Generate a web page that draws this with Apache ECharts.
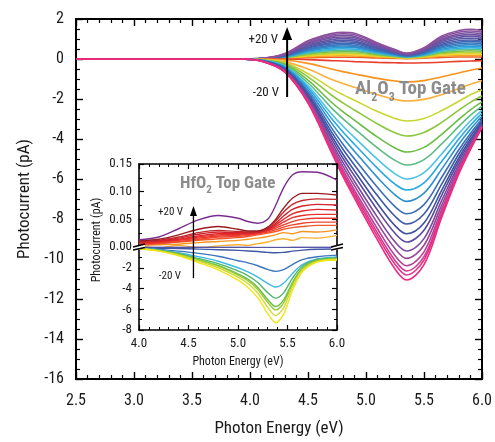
<!DOCTYPE html>
<html>
<head>
<meta charset="utf-8">
<script src="https://cdn.jsdelivr.net/npm/echarts@6/dist/echarts.min.js"></script>
<style>
html, body { margin: 0; padding: 0; background: #fff; }
#chart { width: 495px; height: 442px; }
</style>
</head>
<body>
<div id="chart"></div>
<script>
const FONT = "'Roboto Condensed', 'DejaVu Sans Condensed', sans-serif";

// ---------- Main panel: Al2O3 top gate, gate sweep -20 V ... +20 V ----------
const energyMain = [2.5, 3.5, 3.9, 4.1, 4.3, 4.5, 4.7, 4.8, 4.9, 5.1, 5.25, 5.35, 5.5, 5.65, 5.8, 5.9, 6.0];

// positive-going curves, smallest first
const positiveSweep = [
  [0, 0, 0, 0, 0.02, 0.06, 0.09, 0.09, 0.09, 0.05, 0.03, 0.02, 0.04, 0.08, 0.10, 0.10, 0.10],
  [0, 0, 0, 0, 0.03, 0.11, 0.15, 0.16, 0.15, 0.10, 0.06, 0.04, 0.07, 0.14, 0.17, 0.18, 0.17],
  [0, 0, 0, 0, 0.05, 0.16, 0.22, 0.23, 0.22, 0.14, 0.08, 0.05, 0.10, 0.20, 0.24, 0.26, 0.24],
  [0, 0, 0, 0.01, 0.06, 0.20, 0.29, 0.30, 0.29, 0.18, 0.11, 0.07, 0.13, 0.26, 0.32, 0.33, 0.32],
  [0, 0, 0, 0.01, 0.07, 0.25, 0.35, 0.37, 0.36, 0.22, 0.13, 0.08, 0.16, 0.31, 0.39, 0.41, 0.39],
  [0, 0, 0, 0.01, 0.09, 0.30, 0.42, 0.44, 0.42, 0.26, 0.15, 0.10, 0.18, 0.37, 0.47, 0.49, 0.47],
  [0, 0, 0, 0.01, 0.10, 0.35, 0.48, 0.51, 0.49, 0.31, 0.18, 0.11, 0.21, 0.43, 0.54, 0.57, 0.54],
  [0, 0, 0, 0.01, 0.12, 0.39, 0.55, 0.58, 0.56, 0.35, 0.20, 0.13, 0.24, 0.49, 0.61, 0.64, 0.61],
  [0, 0, 0, 0.01, 0.13, 0.44, 0.62, 0.65, 0.62, 0.39, 0.23, 0.14, 0.27, 0.55, 0.69, 0.72, 0.69],
  [0, 0, 0, 0.01, 0.14, 0.49, 0.68, 0.72, 0.69, 0.43, 0.25, 0.16, 0.30, 0.61, 0.76, 0.80, 0.76],
  [0, 0, 0, 0.02, 0.16, 0.54, 0.75, 0.79, 0.76, 0.47, 0.28, 0.17, 0.33, 0.67, 0.84, 0.88, 0.84],
  [0, 0, 0, 0.02, 0.17, 0.58, 0.82, 0.86, 0.83, 0.52, 0.30, 0.19, 0.36, 0.73, 0.91, 0.95, 0.91],
  [0, 0, 0, 0.02, 0.19, 0.64, 0.89, 0.94, 0.90, 0.56, 0.33, 0.21, 0.39, 0.80, 1.00, 1.04, 1.00],
  [0, 0, 0, 0.02, 0.20, 0.69, 0.97, 1.02, 0.98, 0.61, 0.36, 0.22, 0.43, 0.87, 1.08, 1.13, 1.08],
  [0, 0, 0, 0.02, 0.22, 0.75, 1.05, 1.10, 1.06, 0.66, 0.39, 0.24, 0.46, 0.94, 1.17, 1.22, 1.17],
  [0, 0, 0, 0.02, 0.24, 0.80, 1.12, 1.18, 1.13, 0.71, 0.41, 0.26, 0.50, 1.00, 1.25, 1.31, 1.25],
  [0, 0, 0, 0.03, 0.25, 0.86, 1.20, 1.26, 1.21, 0.76, 0.44, 0.28, 0.53, 1.07, 1.34, 1.40, 1.34],
  [0, 0, 0, 0.03, 0.27, 0.91, 1.27, 1.34, 1.29, 0.80, 0.47, 0.29, 0.56, 1.14, 1.42, 1.49, 1.42]
];
const positiveColors = [
  '#ef5a28', '#f7a21e', '#f2d027', '#b5d334', '#7dc242', '#5bbf9a',
  '#33b3e0', '#2a9bd6', '#3288c9', '#3878bf', '#3f6ab6', '#4a5fae',
  '#5458a6', '#6256a4', '#6f53a2', '#7c51a0', '#87509f', '#8e4f9f'
];

// negative-going curves, shallowest first
const negativeSweep = [
  [0, 0, 0, 0, 0, -0.03, -0.08, -0.10, -0.13, -0.17, -0.19, -0.20, -0.19, -0.16, -0.12, -0.10, -0.08],
  [0, 0, 0, -0.01, -0.05, -0.22, -0.50, -0.63, -0.75, -0.97, -1.10, -1.15, -1.08, -0.90, -0.70, -0.56, -0.45],
  [0, 0, 0, -0.02, -0.13, -0.50, -1.01, -1.22, -1.41, -1.79, -2.02, -2.10, -2.02, -1.79, -1.47, -1.26, -1.09],
  [0, 0, 0, -0.03, -0.19, -0.73, -1.47, -1.78, -2.06, -2.63, -2.97, -3.10, -2.97, -2.59, -2.11, -1.79, -1.54],
  [0, 0, 0, -0.04, -0.23, -0.89, -1.80, -2.19, -2.55, -3.25, -3.69, -3.85, -3.67, -3.18, -2.56, -2.17, -1.84],
  [0, 0, 0, -0.05, -0.28, -1.06, -2.15, -2.63, -3.06, -3.91, -4.45, -4.65, -4.42, -3.78, -3.02, -2.54, -2.14],
  [0, 0, 0, -0.05, -0.32, -1.20, -2.43, -2.98, -3.48, -4.45, -5.07, -5.30, -5.03, -4.26, -3.37, -2.82, -2.36],
  [0, 0, 0, -0.06, -0.36, -1.34, -2.72, -3.35, -3.92, -5.02, -5.74, -6.00, -5.68, -4.76, -3.73, -3.10, -2.57],
  [0, 0, 0, -0.07, -0.39, -1.44, -2.95, -3.64, -4.26, -5.47, -6.26, -6.55, -6.19, -5.14, -4.00, -3.31, -2.72],
  [0, 0, 0, -0.07, -0.43, -1.55, -3.18, -3.93, -4.61, -5.93, -6.79, -7.12, -6.71, -5.53, -4.26, -3.51, -2.86],
  [0, 0, 0, -0.08, -0.46, -1.66, -3.42, -4.25, -4.99, -6.43, -7.38, -7.74, -7.28, -5.94, -4.54, -3.72, -3.00],
  [0, 0, 0, -0.08, -0.50, -1.76, -3.62, -4.50, -5.30, -6.84, -7.86, -8.25, -7.75, -6.28, -4.75, -3.87, -3.10],
  [0, 0, 0, -0.09, -0.52, -1.84, -3.80, -4.75, -5.59, -7.24, -8.33, -8.74, -8.20, -6.59, -4.95, -4.01, -3.18],
  [0, 0, 0, -0.09, -0.55, -1.90, -3.96, -4.95, -5.84, -7.56, -8.71, -9.15, -8.56, -6.84, -5.11, -4.12, -3.25],
  [0, 0, 0, -0.10, -0.58, -1.98, -4.13, -5.16, -6.11, -7.92, -9.14, -9.60, -8.98, -7.11, -5.27, -4.23, -3.30],
  [0, 0, 0, -0.10, -0.60, -2.04, -4.26, -5.34, -6.33, -8.22, -9.48, -9.97, -9.31, -7.34, -5.40, -4.32, -3.34],
  [0, 0, 0, -0.10, -0.62, -2.10, -4.39, -5.52, -6.55, -8.50, -9.83, -10.34, -9.64, -7.55, -5.52, -4.39, -3.38],
  [0, 0, 0, -0.11, -0.64, -2.14, -4.48, -5.65, -6.70, -8.71, -10.07, -10.60, -9.88, -7.71, -5.61, -4.45, -3.39],
  [0, 0, 0, -0.11, -0.65, -2.17, -4.56, -5.73, -6.81, -8.87, -10.26, -10.80, -10.05, -7.82, -5.67, -4.48, -3.41],
  [0, 0, 0, -0.11, -0.66, -2.21, -4.64, -5.86, -6.96, -9.06, -10.50, -11.05, -10.28, -7.96, -5.75, -4.53, -3.43]
];
const negativeColors = [
  '#e83f2c', '#f7931e', '#fbb03b', '#c8d630', '#8cc63f', '#6abd45', '#5dbb84',
  '#4cc3e6', '#29a9e0', '#2e8fd0', '#3b6fba', '#3c5aa8', '#4250a0', '#5b4b9e',
  '#7a4a9c', '#97479a', '#b44395', '#d13b8d', '#e6338a', '#ed2a7e'
];

// ---------- Inset: HfO2 top gate ----------
const energyInset = [4.0, 4.2, 4.4, 4.6, 4.8, 5.0, 5.1, 5.2, 5.3, 5.38, 5.46, 5.55, 5.65, 5.8, 6.0];

// upper (broken) axis, 0 ... 0.15
const insetUpper = [
  [0.003, -0.002, 0.003, -0.001, 0.002, 0.004, 0.003, 0.006, 0.009, 0.013, 0.015, 0.012, 0.017, 0.016, 0.021],
  [0.003, 0.004, 0.005, 0.008, 0.010, 0.012, 0.014, 0.016, 0.019, 0.022, 0.026, 0.024, 0.028, 0.027, 0.031],
  [0.004, 0.006, 0.009, 0.012, 0.015, 0.017, 0.019, 0.022, 0.025, 0.028, 0.032, 0.035, 0.037, 0.039, 0.039],
  [0.005, 0.007, 0.010, 0.014, 0.018, 0.019, 0.021, 0.024, 0.027, 0.031, 0.036, 0.040, 0.043, 0.045, 0.045],
  [0.006, 0.008, 0.012, 0.016, 0.020, 0.021, 0.023, 0.025, 0.029, 0.034, 0.040, 0.046, 0.050, 0.052, 0.052],
  [0.007, 0.009, 0.013, 0.018, 0.022, 0.023, 0.024, 0.026, 0.030, 0.037, 0.045, 0.053, 0.057, 0.059, 0.059],
  [0.008, 0.010, 0.014, 0.020, 0.024, 0.024, 0.025, 0.026, 0.031, 0.040, 0.050, 0.060, 0.065, 0.068, 0.067],
  [0.009, 0.011, 0.016, 0.023, 0.027, 0.026, 0.026, 0.027, 0.032, 0.043, 0.056, 0.068, 0.074, 0.077, 0.076],
  [0.010, 0.012, 0.018, 0.026, 0.030, 0.028, 0.027, 0.028, 0.034, 0.047, 0.063, 0.077, 0.084, 0.087, 0.086],
  [0.011, 0.014, 0.022, 0.032, 0.037, 0.032, 0.029, 0.029, 0.036, 0.050, 0.070, 0.088, 0.097, 0.097, 0.094],
  [0.013, 0.018, 0.033, 0.049, 0.057, 0.052, 0.046, 0.043, 0.050, 0.075, 0.107, 0.130, 0.136, 0.135, 0.121]
];
const insetUpperColors = [
  '#fbb034', '#f7941d', '#f05a2a', '#ee4530', '#ec3b2e', '#e8312c',
  '#e0262a', '#d2232a', '#c1272d', '#9b1c1f', '#7b2d8e'
];

// lower axis, -8 ... 0
const insetLower = [
  [-0.02, -0.02, -0.02, -0.03, -0.03, -0.03, -0.03, -0.04, -0.04, -0.04, -0.04, -0.03, -0.03, -0.03, -0.02],
  [-0.10, -0.12, -0.15, -0.20, -0.26, -0.33, -0.38, -0.44, -0.52, -0.56, -0.52, -0.40, -0.30, -0.22, -0.17],
  [-0.14, -0.23, -0.40, -0.61, -0.89, -1.32, -1.53, -1.81, -2.16, -2.35, -2.19, -1.69, -1.22, -0.94, -0.78],
  [-0.12, -0.28, -0.55, -0.93, -1.37, -2.00, -2.40, -2.90, -3.50, -3.86, -3.50, -2.55, -1.70, -1.15, -0.95],
  [-0.12, -0.31, -0.63, -1.10, -1.60, -2.30, -2.75, -3.42, -4.40, -4.93, -4.42, -3.00, -1.85, -1.20, -1.05],
  [-0.13, -0.34, -0.70, -1.22, -1.77, -2.58, -3.10, -3.90, -5.07, -5.74, -5.12, -3.42, -2.02, -1.30, -1.10],
  [-0.13, -0.35, -0.72, -1.27, -1.85, -2.70, -3.25, -4.10, -5.33, -6.06, -5.40, -3.58, -2.10, -1.35, -1.15],
  [-0.14, -0.37, -0.77, -1.36, -2.00, -2.90, -3.52, -4.43, -5.80, -6.61, -5.88, -3.85, -2.25, -1.40, -1.20],
  [-0.15, -0.40, -0.85, -1.50, -2.20, -3.20, -3.90, -4.90, -6.40, -7.30, -6.50, -4.20, -2.40, -1.45, -1.25]
];
const insetLowerColors = [
  '#5656a6', '#4358a5', '#3d75bb', '#3fb9e6', '#4db86a', '#6cbd45', '#99ca3c', '#cfd92e', '#f2e418'
];

const toPairs = (xs, ys) => xs.map((x, i) => [x, ys[i]]);
const TXT = '#1a1a1a';
const GRAY = '#8c8c8c';

function frameAxis(extra) {
  return Object.assign({
    type: 'value',
    splitLine: { show: false },
    axisLine: { show: true, onZero: false, lineStyle: { color: '#000', width: 2 } },
    axisTick: { show: true, inside: true, length: 7, lineStyle: { color: '#000', width: 1.4 } },
    minorTick: { show: true, length: 4, lineStyle: { color: '#000', width: 1.2 } },
    axisLabel: { show: false }
  }, extra);
}
function insetAxis(extra) {
  return Object.assign({
    type: 'value',
    zlevel: 1,
    splitLine: { show: false },
    axisLine: { show: true, onZero: false, lineStyle: { color: '#000', width: 1.6 } },
    axisTick: { show: true, inside: true, length: 5, lineStyle: { color: '#000', width: 1.2 } },
    minorTick: { show: true, length: 3, lineStyle: { color: '#000', width: 1 } },
    axisLabel: { show: false }
  }, extra);
}

const series = [];
positiveSweep.forEach((ys, i) => series.push({
  type: 'line', xAxisIndex: 0, yAxisIndex: 0, smooth: 0.35, showSymbol: false, silent: true,
  lineStyle: { color: positiveColors[i], width: 1.6 }, data: toPairs(energyMain, ys)
}));
negativeSweep.forEach((ys, i) => series.push({
  type: 'line', xAxisIndex: 0, yAxisIndex: 0, smooth: 0.35, showSymbol: false, silent: true,
  lineStyle: { color: negativeColors[i], width: 1.6 }, data: toPairs(energyMain, ys)
}));
insetUpper.forEach((ys, i) => series.push({
  type: 'line', xAxisIndex: 2, yAxisIndex: 2, zlevel: 1, smooth: 0.3, showSymbol: false, silent: true, clip: true,
  lineStyle: { color: insetUpperColors[i], width: 1.4 }, data: toPairs(energyInset, ys)
}));
insetLower.forEach((ys, i) => series.push({
  type: 'line', xAxisIndex: 3, yAxisIndex: 4, zlevel: 1, smooth: 0.3, showSymbol: false, silent: true, clip: true,
  lineStyle: { color: insetLowerColors[i], width: 1.4 }, data: toPairs(energyInset, ys)
}));

const chart = echarts.init(document.getElementById('chart'), null, { renderer: 'canvas' });

const option = {
  animation: false,
  backgroundColor: '#fff',
  textStyle: { fontFamily: FONT },
  grid: [
    { left: 76, top: 19, width: 408, height: 364 },
    { left: 139, top: 164, width: 198, height: 83 },
    { left: 139, top: 247, width: 198, height: 83 }
  ],
  xAxis: [
    frameAxis({
      gridIndex: 0, position: 'bottom', min: 2.5, max: 6.0, interval: 0.5,
      minorTick: { show: true, splitNumber: 5, length: 4, lineStyle: { color: '#000', width: 1.2 } },
      axisLabel: { show: true, fontSize: 16, color: TXT, margin: 14, fontFamily: FONT, formatter: v => v.toFixed(1) },
      name: 'Photon Energy (eV)', nameLocation: 'middle', nameGap: 41,
      nameTextStyle: { fontSize: 17, color: TXT, fontFamily: FONT }
    }),
    frameAxis({
      gridIndex: 0, position: 'top', min: 2.5, max: 6.0, interval: 0.5,
      minorTick: { show: true, splitNumber: 5, length: 4, lineStyle: { color: '#000', width: 1.2 } }
    }),
    insetAxis({
      gridIndex: 1, position: 'top', min: 4.0, max: 6.0, interval: 0.5,
      minorTick: { show: true, splitNumber: 5, length: 3, lineStyle: { color: '#000', width: 1 } }
    }),
    insetAxis({
      gridIndex: 2, position: 'bottom', min: 4.0, max: 6.0, interval: 0.5,
      minorTick: { show: true, splitNumber: 5, length: 3, lineStyle: { color: '#000', width: 1 } },
      axisLabel: { show: true, fontSize: 13, color: TXT, margin: 7, fontFamily: FONT, formatter: v => v.toFixed(1) },
      name: 'Photon Energy (eV)', nameLocation: 'middle', nameGap: 26,
      nameTextStyle: { fontSize: 12, color: TXT, fontFamily: FONT }
    })
  ],
  yAxis: [
    frameAxis({
      gridIndex: 0, position: 'left', min: -16, max: 2, interval: 2,
      minorTick: { show: true, splitNumber: 4, length: 4, lineStyle: { color: '#000', width: 1.2 } },
      axisLabel: { show: true, fontSize: 16, color: TXT, margin: 12, fontFamily: FONT },
      name: 'Photocurrent (pA)', nameLocation: 'middle', nameGap: 40,
      nameTextStyle: { fontSize: 17, color: TXT, fontFamily: FONT }
    }),
    frameAxis({
      gridIndex: 0, position: 'right', min: -16, max: 2, interval: 2,
      minorTick: { show: true, splitNumber: 4, length: 4, lineStyle: { color: '#000', width: 1.2 } }
    }),
    insetAxis({
      gridIndex: 1, position: 'left', min: 0, max: 0.15, interval: 0.05,
      minorTick: { show: true, splitNumber: 2, length: 3, lineStyle: { color: '#000', width: 1 } },
      axisLabel: { show: true, fontSize: 13, color: TXT, margin: 7, fontFamily: FONT, formatter: v => v.toFixed(2) }
    }),
    insetAxis({
      gridIndex: 1, position: 'right', min: 0, max: 0.15, interval: 0.05,
      minorTick: { show: true, splitNumber: 2, length: 3, lineStyle: { color: '#000', width: 1 } }
    }),
    insetAxis({
      gridIndex: 2, position: 'left', min: -8, max: 0, interval: 2,
      minorTick: { show: true, splitNumber: 2, length: 3, lineStyle: { color: '#000', width: 1 } },
      axisLabel: { show: true, fontSize: 13, color: TXT, margin: 7, fontFamily: FONT, showMaxLabel: false }
    }),
    insetAxis({
      gridIndex: 2, position: 'right', min: -8, max: 0, interval: 2,
      minorTick: { show: true, splitNumber: 2, length: 3, lineStyle: { color: '#000', width: 1 } }
    })
  ],
  series: series
};
chart.setOption(option);

// ---------- annotations ----------
const px = (g, pt) => chart.convertToPixel({ gridIndex: g }, pt);

function arrow(tail, tip, headW, headH, lw, zl) {
  return [
    { type: 'line', zlevel: zl, z: 50, silent: true,
      shape: { x1: tail[0], y1: tail[1], x2: tip[0], y2: tip[1] + headH * 0.6 },
      style: { stroke: '#000', lineWidth: lw } },
    { type: 'polygon', zlevel: zl, z: 51, silent: true,
      shape: { points: [[tip[0], tip[1]], [tip[0] - headW / 2, tip[1] + headH], [tip[0] + headW / 2, tip[1] + headH]] },
      style: { fill: '#000' } }
  ];
}

const mainTail = px(0, [4.32, -1.9]);
const mainTip = px(0, [4.32, 1.6]);
const insetTail = px(2, [4.55, -3.0]);
const insetTip = px(1, [4.55, 0.074]);

const leftBreak = px(2, [4.0, 0]);
const rightBreak = px(2, [6.0, 0]);
function breakMark(p) {
  const x = p[0], y = p[1];
  return [
    { type: 'polygon', zlevel: 1, z: 60, silent: true,
      shape: { points: [[x - 6, y + 1], [x + 6, y - 3], [x + 6, y + 1], [x - 6, y + 4]] },
      style: { fill: '#fff' } },
    { type: 'line', zlevel: 1, z: 61, silent: true,
      shape: { x1: x - 6, y1: y, x2: x + 6, y2: y - 3 }, style: { stroke: '#000', lineWidth: 1.3 } },
    { type: 'line', zlevel: 1, z: 61, silent: true,
      shape: { x1: x - 6, y1: y + 3, x2: x + 6, y2: y + 0.5 }, style: { stroke: '#000', lineWidth: 1.3 } }
  ];
}

function label(zl, x, y, text, size, align) {
  return { type: 'text', zlevel: zl, z: 50, silent: true, x: x, y: y,
    style: { text: text, font: size + 'px ' + FONT, fill: TXT, align: align || 'left', verticalAlign: 'middle' } };
}

const graphics = [
  // white backing of the inset
  { type: 'rect', zlevel: 1, z: -10, silent: true,
    shape: { x: 139, y: 163, width: 198, height: 167 }, style: { fill: '#fff' } },
  // gate labels, main panel
  label(0, 278, 40, '+20 V', 13, 'right'),
  label(0, 279, 93, '-20 V', 13, 'right'),
  { type: 'text', zlevel: 0, z: 50, silent: true, x: 355, y: 80,
    style: {
      text: '{n|Al}{s|2}{n|O}{s|3}{n| Top Gate}',
      rich: {
        n: { fontSize: 19, fontWeight: 'bold', fontFamily: FONT, fill: GRAY, padding: [0, 0, 5, 0], verticalAlign: 'bottom' },
        s: { fontSize: 12, fontWeight: 'bold', fontFamily: FONT, fill: GRAY, verticalAlign: 'bottom' }
      }
    } },
  // gate labels, inset
  label(1, 183, 212, '+20 V', 11, 'right'),
  label(1, 181, 276, '-20 V', 11, 'right'),
  { type: 'text', zlevel: 1, z: 50, silent: true, x: 180, y: 175,
    style: {
      text: '{n|HfO}{s|2}{n| Top Gate}',
      rich: {
        n: { fontSize: 17, fontWeight: 'bold', fontFamily: FONT, fill: GRAY, padding: [0, 0, 4, 0], verticalAlign: 'bottom' },
        s: { fontSize: 11, fontWeight: 'bold', fontFamily: FONT, fill: GRAY, verticalAlign: 'bottom' }
      }
    } },
  { type: 'text', zlevel: 1, z: 50, silent: true, x: 97, y: 240, rotation: Math.PI / 2,
    style: { text: 'Photocurrent (pA)', font: '12px ' + FONT, fill: TXT, align: 'center', verticalAlign: 'middle' } }
]
  .concat(arrow(mainTail, mainTip, 10, 13, 2, 0))
  .concat(arrow(insetTail, insetTip, 7, 10, 1.3, 1))
  .concat(breakMark(leftBreak))
  .concat(breakMark(rightBreak));

chart.setOption({ graphic: graphics });
</script>
</body>
</html>
